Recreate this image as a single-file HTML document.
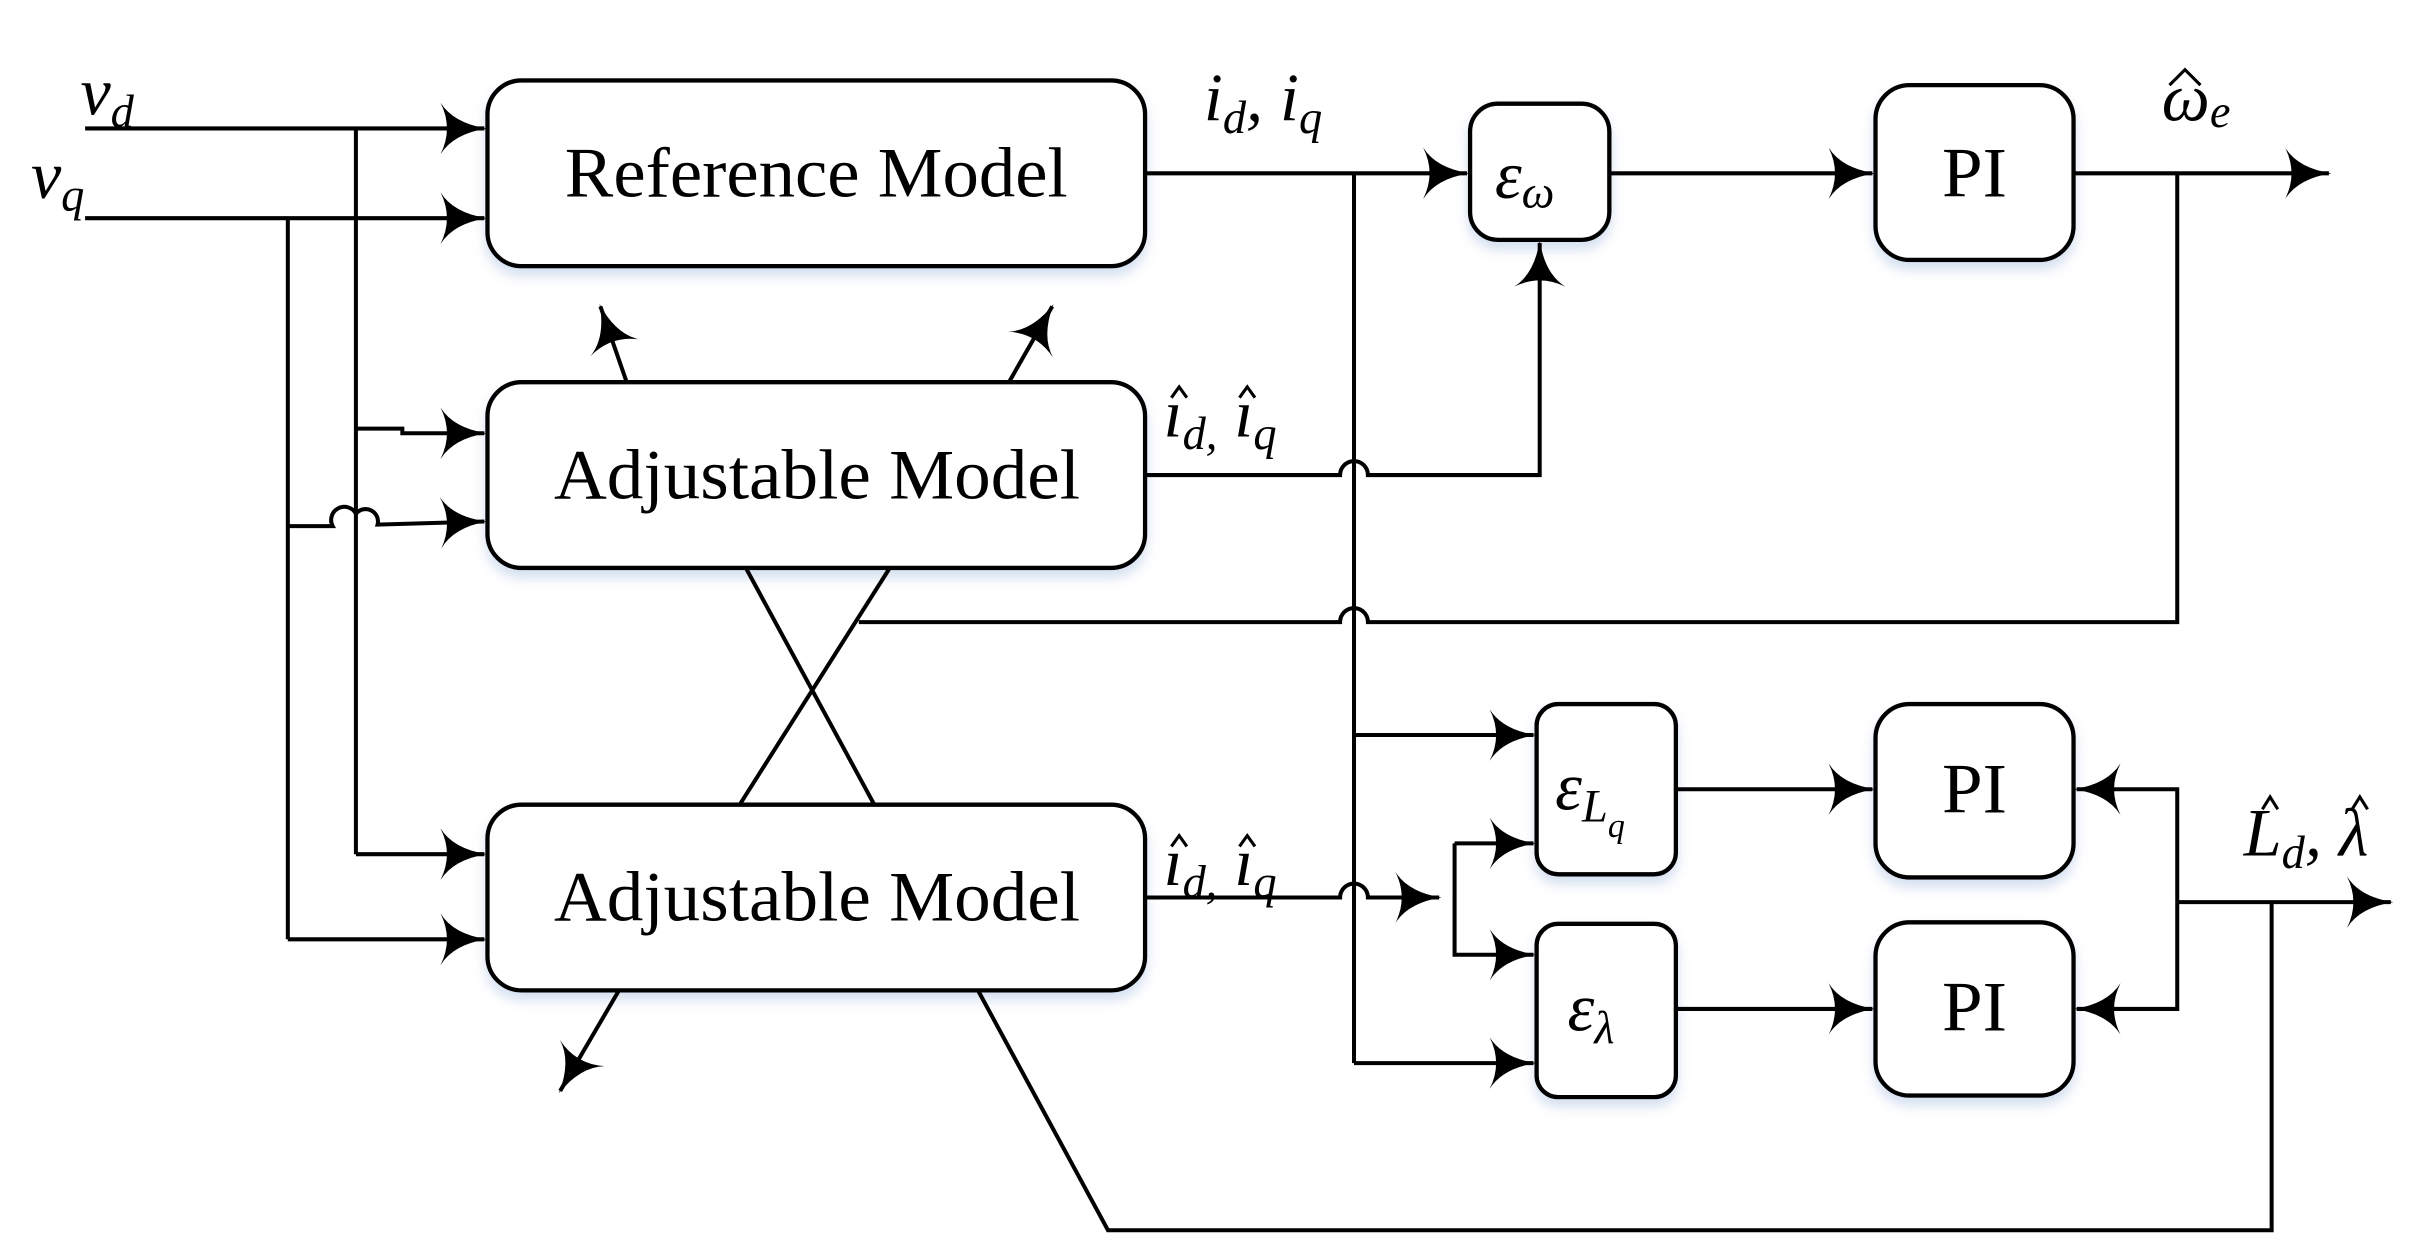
<!DOCTYPE html>
<html><head><meta charset="utf-8"><style>
html,body{margin:0;padding:0;background:#fff;}
svg{display:block;}
text{font-family:"Liberation Serif",serif;fill:#000;}
.it{font-style:italic;}
</style></head><body>
<svg width="2414" height="1257" viewBox="0 0 1560 812.3" xmlns="http://www.w3.org/2000/svg">
<defs>
<marker id="a" markerUnits="userSpaceOnUse" markerWidth="40" markerHeight="40" refX="0" refY="0" viewBox="-20 -12 22 24" orient="auto" overflow="visible">
<path d="M-17,-10 Q-12,-2 1,0 Q-12,2 -17,10 Q-12,0 -17,-10 Z" fill="#000"/>
</marker>
<filter id="sh" x="-10%" y="-10%" width="120%" height="130%"><feDropShadow dx="0" dy="5" stdDeviation="4" flood-color="#9fb8dd" flood-opacity="0.45"/></filter>
</defs>
<g fill="#fff" stroke="#000" stroke-width="2.8" filter="url(#sh)">
<rect x="315" y="52" width="425" height="120" rx="22"/>
<rect x="315" y="247" width="425" height="120" rx="22"/>
<rect x="315" y="520" width="425" height="120" rx="22"/>
<rect x="950" y="67" width="90" height="88" rx="18"/>
<rect x="1212" y="55" width="128" height="113" rx="22"/>
<rect x="993" y="455" width="90" height="110" rx="14"/>
<rect x="993" y="597" width="90" height="112" rx="14"/>
<rect x="1212" y="455" width="128" height="112" rx="22"/>
<rect x="1212" y="596" width="128" height="112" rx="22"/>
</g>
<g fill="none" stroke="#000" stroke-width="2.6">
<path d="M55,83 H313" marker-end="url(#a)"/>
<path d="M55,141 H313" marker-end="url(#a)"/>
<path d="M230,83 V552"/>
<path d="M186,141 V607"/>
<path d="M230,277 H260 V280 H313" marker-end="url(#a)"/>
<path d="M186,340 H215 A8,8 0 0 1 230,332 A8,8 0 0 1 244,339 L313,337" marker-end="url(#a)"/>
<path d="M230,552 H313" marker-end="url(#a)"/>
<path d="M186,607 H313" marker-end="url(#a)"/>
<path d="M740,112 H948" marker-end="url(#a)"/>
<path d="M875,112 V687"/>
<path d="M1040,112 H1210" marker-end="url(#a)"/>
<path d="M1340,112 H1505" marker-end="url(#a)"/>
<path d="M740,307 H866 A9,9 0 0 1 884,307 H995 V157" marker-end="url(#a)"/>
<path d="M1407,112 V402 H884 A9,9 0 0 0 866,402 H555"/>
<path d="M482,367 L565,520"/>
<path d="M575,367 L478,520"/>
<path d="M405,247 L388,198" marker-end="url(#a)"/>
<path d="M652,247 L680,198" marker-end="url(#a)"/>
<path d="M400,640 L362,705" marker-end="url(#a)"/>
<path d="M632,640 L716,795 H1468 V583"/>
<path d="M740,580 H866 A9,9 0 0 1 884,580 H930" marker-end="url(#a)"/>
<path d="M940,580 V545"/>
<path d="M940,545 H991" marker-end="url(#a)"/>
<path d="M940,580 V617 H991" marker-end="url(#a)"/>
<path d="M875,475 H991" marker-end="url(#a)"/>
<path d="M875,687 H991" marker-end="url(#a)"/>
<path d="M1083,510 H1210" marker-end="url(#a)"/>
<path d="M1083,652 H1210" marker-end="url(#a)"/>
<path d="M1407,583 V510 H1342" marker-end="url(#a)"/>
<path d="M1407,583 V652 H1342" marker-end="url(#a)"/>
<path d="M1407,583 H1545" marker-end="url(#a)"/>
</g>
<g font-size="46">
<text x="365" y="127" textLength="325" lengthAdjust="spacingAndGlyphs">Reference Model</text>
<text x="358" y="322" textLength="340" lengthAdjust="spacingAndGlyphs">Adjustable Model</text>
<text x="358" y="595" textLength="340" lengthAdjust="spacingAndGlyphs">Adjustable Model</text>
<text x="1255" y="127" textLength="42" lengthAdjust="spacingAndGlyphs">PI</text>
<text x="1255" y="525" textLength="42" lengthAdjust="spacingAndGlyphs">PI</text>
<text x="1255" y="666" textLength="42" lengthAdjust="spacingAndGlyphs">PI</text>
</g>
<g class="it" font-size="44">
<text x="52" y="74">v<tspan font-size="30" dy="8">d</tspan></text>
<text x="20" y="128">v<tspan font-size="30" dy="8">q</tspan></text>
<text x="778" y="78">i<tspan font-size="30" dy="8">d</tspan><tspan dy="-8">, i</tspan><tspan font-size="30" dy="8">q</tspan></text>
<text x="966" y="128">ε<tspan font-size="30" dy="6">ω</tspan></text>
<text x="1397" y="78">ω<tspan font-size="30" dy="4">e</tspan></text>
<text x="752" y="282">ı<tspan font-size="30" dy="8">d,</tspan><tspan dy="-8"> ı</tspan><tspan font-size="30" dy="8">q</tspan></text>
<text x="752" y="572">ı<tspan font-size="30" dy="8">d,</tspan><tspan dy="-8"> ı</tspan><tspan font-size="30" dy="8">q</tspan></text>
<text x="1005" y="523">ε<tspan font-size="30" dy="8">L</tspan><tspan font-size="22" dy="10">q</tspan></text>
<text x="1013" y="666">ε<tspan font-size="30" dy="8">λ</tspan></text>
<text x="1450" y="553">L<tspan font-size="30" dy="8">d</tspan><tspan dy="-8">, λ</tspan></text>
</g>
<g fill="none" stroke="#000" stroke-width="2">
<path d="M1402,55 L1412,45 L1422,55"/>
<path d="M757,257 L762,250 L767,257"/>
<path d="M801,257 L806,250 L811,257"/>
<path d="M757,547 L762,540 L767,547"/>
<path d="M801,547 L806,540 L811,547"/>
<path d="M1462,523 L1467,515 L1472,523"/>
<path d="M1520,523 L1525,515 L1530,523"/>
</g>
</svg>
</body></html>
